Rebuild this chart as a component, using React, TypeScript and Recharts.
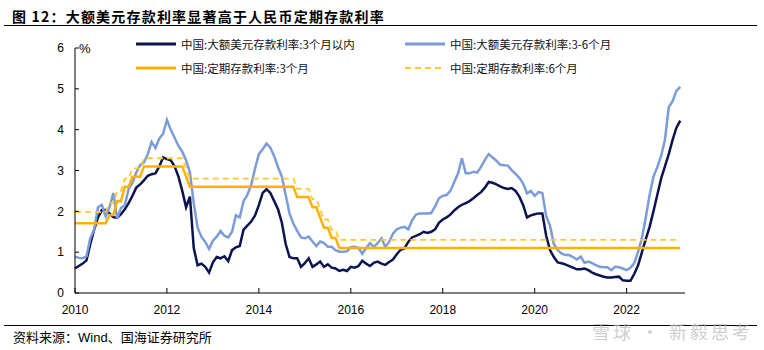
import React from 'react'
import { LineChart, Line, XAxis, YAxis } from 'recharts'

// monthly, Jan 2010 .. Mar 2023
const usd3m = [
  0.60, 0.66, 0.72, 0.80, 1.20, 1.55, 1.85, 2.03, 2.03, 1.95, 1.86, 1.84,
  1.93, 2.05, 2.20, 2.38, 2.58, 2.66, 2.76, 2.87, 2.91, 2.93, 3.10, 3.32,
  3.28, 3.25, 3.10, 2.85, 2.50, 2.10, 2.36, 1.10, 0.68, 0.72, 0.64, 0.50,
  0.75, 0.88, 0.85, 0.90, 0.78, 1.05, 1.12, 1.15, 1.55, 1.65, 1.75, 1.90,
  2.15, 2.45, 2.54, 2.45, 2.25, 2.05, 1.72, 1.20, 0.88, 0.85, 0.85, 0.64,
  0.73, 0.85, 0.64, 0.70, 0.77, 0.64, 0.70, 0.62, 0.60, 0.54, 0.57, 0.54,
  0.64, 0.62, 0.66, 0.79, 0.72, 0.66, 0.74, 0.77, 0.72, 0.69, 0.76, 0.82,
  0.95, 1.06, 1.09, 1.25, 1.36, 1.40, 1.44, 1.50, 1.47, 1.50, 1.56, 1.72,
  1.80, 1.85, 1.92, 2.02, 2.10, 2.16, 2.20, 2.25, 2.32, 2.40, 2.47, 2.58,
  2.72, 2.70, 2.66, 2.61, 2.57, 2.55, 2.57, 2.50, 2.36, 2.15, 1.85, 1.90,
  1.93, 1.95, 1.95, 1.40, 1.05, 0.88, 0.75, 0.73, 0.70, 0.66, 0.62, 0.58,
  0.58, 0.60, 0.56, 0.50, 0.46, 0.43, 0.40, 0.38, 0.38, 0.39, 0.40, 0.31,
  0.30, 0.30, 0.47, 0.68, 1.00, 1.32, 1.62, 2.00, 2.40, 2.80, 3.10, 3.40,
  3.75, 4.05, 4.22,
]

const usd36m = [
  0.89, 0.86, 0.85, 0.90, 1.35, 1.55, 2.10, 2.16, 1.88, 2.10, 2.45, 1.82,
  2.08, 2.15, 2.55, 2.70, 2.95, 3.13, 3.20, 3.40, 3.70, 3.55, 3.78, 3.90,
  4.24, 4.00, 3.80, 3.60, 3.46, 3.25, 2.95, 2.20, 1.60, 1.38, 1.25, 1.08,
  1.28, 1.38, 1.52, 1.40, 1.36, 1.50, 1.90, 1.85, 2.25, 2.40, 2.65, 3.05,
  3.40, 3.52, 3.66, 3.56, 3.35, 3.08, 2.85, 2.40, 1.95, 1.70, 1.52, 1.36,
  1.34, 1.38, 1.26, 1.15, 1.26, 1.22, 1.13, 1.13, 1.05, 1.01, 1.01, 1.02,
  1.12, 1.13, 1.10, 0.96, 1.10, 1.22, 1.13, 1.22, 1.34, 1.13, 1.25, 1.45,
  1.56, 1.60, 1.62, 1.56, 1.78, 1.92, 1.95, 1.95, 1.95, 1.96, 2.12, 2.32,
  2.38, 2.40, 2.50, 2.72, 2.93, 3.30, 2.93, 2.93, 2.97, 2.95, 3.09, 3.26,
  3.40, 3.32, 3.24, 3.14, 3.13, 3.12, 3.01, 2.92, 2.82, 2.68, 2.44, 2.50,
  2.38, 2.47, 2.45, 1.88, 1.65, 1.20, 1.05, 0.97, 0.93, 0.93, 0.88, 0.82,
  0.89, 0.74, 0.77, 0.73, 0.68, 0.64, 0.63, 0.63, 0.56, 0.64, 0.63, 0.60,
  0.56, 0.62, 0.73, 1.01, 1.35, 1.85, 2.40, 2.85, 3.08, 3.35, 3.75, 4.55,
  4.70, 4.95, 5.05,
]

// benchmark deposit rate schedule (month it took effect)
const cnyChangeMonths = [
  '2010-01', '2010-10', '2010-12', '2011-02', '2011-04', '2011-07', '2012-06',
  '2012-07', '2014-11', '2015-03', '2015-05', '2015-06', '2015-08', '2015-10',
]
const cny3m = [1.71, 1.91, 2.25, 2.60, 2.85, 3.10, 2.85, 2.60, 2.35, 2.10, 1.85, 1.60, 1.35, 1.10]
const cny6m = [1.98, 2.20, 2.50, 2.80, 3.05, 3.30, 3.05, 2.80, 2.55, 2.30, 2.05, 1.80, 1.55, 1.30]

const xTicks = [2010, 2012, 2014, 2016, 2018, 2020, 2022]
const yTicks = [0, 1, 2, 3, 4, 5, 6]

const seriesNames = [
  '中国:大额美元存款利率:3个月以内',
  '中国:大额美元存款利率:3-6个月',
  '中国:定期存款利率:3个月',
  '中国:定期存款利率:6个月',
]

const COLORS = ['#0c1450', '#7b9cd9', '#ffb000', '#ffc832']

function monthIndex(s: string) {
  const [y, m] = s.split('-').map(Number)
  return (y - 2010) * 12 + (m - 1)
}

function rateAt(i: number, rates: number[]) {
  let r = rates[0]
  cnyChangeMonths.forEach((d, k) => {
    if (monthIndex(d) <= i) r = rates[k]
  })
  return r
}

const data = usd3m.map((v, i) => ({
  t: 2010 + i / 12,
  a: v,
  b: usd36m[i],
  c: rateAt(i, cny3m),
  d: rateAt(i, cny6m),
}))

const cjk = '"Noto Sans CJK SC", sans-serif'
const latin = '"Liberation Sans", Arial, sans-serif'

function LegendItem({ name, color, dashed, x, y }: any) {
  return (
    <div style={{ position: 'absolute', left: x, top: y - 8, height: 16, display: 'flex', alignItems: 'center' }}>
      <svg width={40} height={6} style={{ marginRight: 5 }}>
        <line x1={0} y1={3} x2={40} y2={3} stroke={color} strokeWidth={dashed ? 2 : 3}
          strokeDasharray={dashed ? '6 4' : undefined} />
      </svg>
      <span style={{ fontFamily: cjk, fontSize: 11.5, color: '#111', whiteSpace: 'nowrap' }}>{name}</span>
    </div>
  )
}

export default function App() {
  return (
    <div style={{ position: 'absolute', left: 0, top: 0, width: 764, height: 350, background: '#fff', overflow: 'hidden' }}>
      <div style={{ position: 'absolute', left: 12, top: 6, fontFamily: cjk, fontWeight: 700, fontSize: 14, letterSpacing: 1.2, color: '#000', whiteSpace: 'nowrap' }}>
        图 12：大额美元存款利率显著高于人民币定期存款利率
      </div>
      <div style={{ position: 'absolute', left: 4, top: 25, width: 753, height: 1, background: '#000' }} />

      <LineChart width={764} height={350} data={data} margin={{ top: 48, right: 79, bottom: 27, left: 45 }}>
        <XAxis
          dataKey="t"
          type="number"
          domain={[2010, 2023.27]}
          ticks={xTicks}
          tickFormatter={(v: number) => String(Math.round(v))}
          tickSize={-5}
          tickMargin={17}
          height={30}
          stroke="#000"
          tick={{ fill: '#000', fontSize: 12, fontFamily: latin }}
        />
        <YAxis
          domain={[0, 6]}
          ticks={yTicks}
          tickSize={-4}
          tickMargin={15}
          width={30}
          stroke="#000"
          tick={{ fill: '#000', fontSize: 12, fontFamily: latin }}
        />
        <Line dataKey="a" stroke={COLORS[0]} strokeWidth={2.5} dot={false} isAnimationActive={false} />
        <Line dataKey="b" stroke={COLORS[1]} strokeWidth={2.5} dot={false} isAnimationActive={false} />
        <Line dataKey="c" stroke={COLORS[2]} strokeWidth={2.5} dot={false} isAnimationActive={false} />
        <Line dataKey="d" stroke={COLORS[3]} strokeWidth={1.8} strokeDasharray="6 4" dot={false} isAnimationActive={false} />
      </LineChart>

      <div style={{ position: 'absolute', left: 79, top: 41, fontFamily: latin, fontSize: 13, color: '#000' }}>%</div>

      <LegendItem name={seriesNames[0]} color={COLORS[0]} x={136} y={44} />
      <LegendItem name={seriesNames[1]} color={COLORS[1]} x={405} y={44} />
      <LegendItem name={seriesNames[2]} color={COLORS[2]} x={136} y={68} />
      <LegendItem name={seriesNames[3]} color={COLORS[3]} x={405} y={68} dashed />

      <div style={{ position: 'absolute', left: 4, top: 325, width: 753, height: 1, background: '#000' }} />
      <div style={{ position: 'absolute', left: 13, top: 327, fontFamily: cjk, fontSize: 13, color: '#000', whiteSpace: 'nowrap' }}>
        资料来源：<span style={{ fontFamily: latin }}>Wind</span>、国海证券研究所
      </div>
      <div style={{ position: 'absolute', left: 592, top: 322, fontFamily: cjk, fontSize: 18, lineHeight: 1, letterSpacing: 3, color: '#bbb', opacity: 0.7, whiteSpace: 'nowrap' }}>
        雪球 · 新毅思考
      </div>
    </div>
  )
}
